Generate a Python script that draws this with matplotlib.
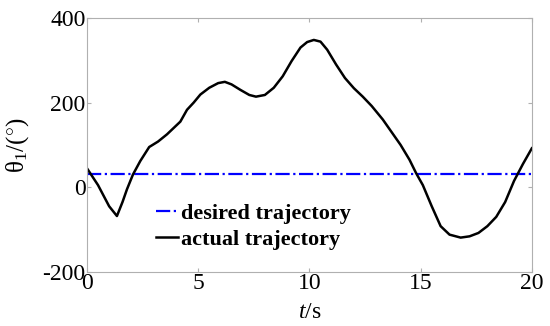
import numpy as np
import matplotlib.pyplot as plt

plt.rcParams['font.family'] = 'Liberation Serif'
plt.rcParams['mathtext.fontset'] = 'custom'
plt.rcParams['mathtext.rm'] = 'Liberation Serif'
plt.rcParams['mathtext.it'] = 'Liberation Serif:italic'
plt.rcParams['axes.unicode_minus'] = False

# data
t = [0, 0.5, 1.0, 1.35, 1.6, 1.8, 2.07, 2.4, 2.8, 3.2, 3.6, 4.2, 4.5, 4.8, 5.1,
     5.5, 5.9, 6.2, 6.5, 6.9, 7.3, 7.6, 8.0, 8.4, 8.8, 9.2, 9.6, 9.9, 10.2,
     10.5, 10.8, 11.2, 11.6, 12.0, 12.4, 12.8, 13.3, 13.7, 14.1, 14.5, 14.8,
     15.1, 15.5, 15.9, 16.3, 16.8, 17.2, 17.6, 18.0, 18.4, 18.8, 19.2, 19.6, 20.0]
actual = [45, 5, -45, -68, -35, -5, 30, 62, 95, 108, 125, 155, 183, 200, 219,
          235, 246, 249, 243, 230, 218, 214, 218, 235, 262, 298, 330, 343, 348,
          344, 325, 290, 258, 234, 214, 192, 160, 130, 100, 65, 33,
          5, -45, -92, -112, -119, -116, -108, -92, -70, -35, 15, 55, 92]
desired = [32, 32]
t_desired = [0, 20]

fig = plt.figure(figsize=(5.5, 3.26), dpi=100)
ax = fig.add_axes([0.158, 0.166, 0.809, 0.779])

ax.plot(t_desired, desired, color='#0000ff', linestyle='-.', linewidth=1.6,
        label='desired trajectory')
ax.plot(t, actual, color='black', linewidth=1.8, label='actual trajectory')

ax.set_xlim(0, 20)
ax.set_ylim(-200, 400)
ax.set_xticks([0, 5, 10, 15, 20])
ax.set_yticks([-200, 0, 200, 400])
ax.tick_params(direction='in', length=3, color='#b0b0b0', labelsize=17,
               top=True, right=True, pad=1)
for s in ax.spines.values():
    s.set_color('#b0b0b0')

ax.set_xlabel('$t$/s', fontsize=17)
ax.xaxis.label.set_va('center')
ax.xaxis.set_label_coords(0.5, -0.161)
ax.set_ylabel('θ$_1$/($^{\\circ}$)', fontsize=18)
ax.yaxis.label.set_va('center')
ax.yaxis.set_label_coords(-0.155, 0.5)

leg = ax.legend(loc='center left', bbox_to_anchor=(0.155, 0.179), frameon=False,
                borderpad=0, borderaxespad=0, handlelength=1.0,
                handletextpad=0.15, labelspacing=0.25,
                prop={'weight': 'bold', 'size': 16})

fig.savefig('out.png', dpi=100)
